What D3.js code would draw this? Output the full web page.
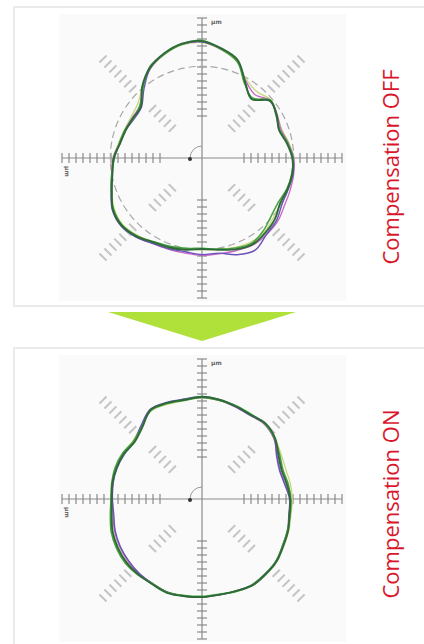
<!DOCTYPE html>
<html>
<head>
<meta charset="utf-8">
<script src="https://cdn.jsdelivr.net/npm/d3@7"></script>
<style>
  body { margin: 0; background: #fff; }
  svg { display: block; }
</style>
</head>
<body>
<div class="chart"></div>
<script>
// angles of the polar samples, degrees counter-clockwise from +x
const angles = [0,10,20,30,40,50,60,70,80,90,100,110,120,130,140,150,160,170,
                180,190,200,210,220,230,240,250,260,270,280,290,300,310,320,330,340,350];

// radial deviation traces, compensation OFF
const offOlive   = [13.1,12.6,12.1,12.4,12.9,12.3,12.8,14.6,15.7,16.5,16.4,15.7,14.7,13.2,12.0,11.7,11.8,12.1,12.7,13.1,13.7,14.5,14.8,14.4,13.9,13.5,13.2,13.1,13.3,13.6,13.9,13.8,13.3,13.0,13.1,13.1];
const offMagenta = [13.1,12.5,12.0,12.4,12.8,11.8,12.6,14.7,15.8,16.6,16.5,15.8,14.8,13.2,11.6,11.5,11.7,12.0,12.7,13.1,13.8,14.7,15.0,14.7,14.1,13.9,13.8,13.9,13.9,14.1,14.4,14.3,14.1,13.6,13.4,13.3];
const offPurple  = [13.0,12.4,11.8,12.3,12.7,11.1,12.3,14.8,15.8,16.6,16.5,15.8,14.8,12.9,11.3,11.2,11.6,11.9,12.6,13.0,13.8,14.8,15.1,14.7,14.1,13.8,13.6,13.8,13.8,14.7,15.2,14.3,13.9,13.2,13.1,13.2];
const offGreen   = [13.0,12.4,11.8,12.2,12.8,11.2,12.2,14.7,15.8,16.8,16.5,15.8,15.0,13.1,11.6,11.3,11.7,12.0,12.5,13.1,13.8,14.6,14.9,14.5,13.8,13.4,13.1,12.9,13.2,13.7,14.1,13.6,12.9,12.6,12.9,13.0];
const offDark    = [12.9,12.3,11.7,12.3,12.7,11.0,12.4,14.9,15.9,16.7,16.6,15.9,14.9,13.3,11.4,11.4,11.6,11.9,12.6,13.0,13.7,14.7,15.0,14.6,13.9,13.6,13.3,13.0,13.3,13.9,14.3,14.0,13.6,12.9,13.0,13.1];

// radial deviation traces, compensation ON
const onOlive    = [12.9,12.8,12.7,13.0,13.6,14.0,13.9,14.0,14.3,14.5,14.3,14.4,14.5,13.5,12.9,13.0,13.0,13.0,12.9,13.1,13.5,13.8,14.0,14.0,14.0,14.2,14.1,14.0,13.9,14.0,14.2,14.1,13.9,13.5,13.2,12.9];
const onMagenta  = [12.6,12.1,11.9,12.4,13.4,13.9,13.8,14.0,14.3,14.5,14.4,14.6,14.7,13.4,12.7,12.9,13.0,12.9,12.8,12.9,13.3,13.6,13.8,14.0,14.0,14.2,14.1,14.0,13.9,14.0,14.2,14.0,13.8,13.4,13.1,12.7];
const onPurple   = [12.5,12.0,11.8,12.3,13.5,14.0,13.8,14.0,14.4,14.6,14.5,14.7,14.8,13.6,12.7,12.8,12.9,12.9,12.8,12.8,13.2,13.5,13.7,13.9,14.0,14.2,14.1,14.0,13.9,14.0,14.2,14.0,13.8,13.3,13.0,12.6];
const onGreen    = [12.7,12.5,12.3,12.8,13.5,14.0,14.0,14.2,14.3,14.5,14.3,14.5,14.6,13.4,12.8,13.1,13.2,13.1,13.0,13.3,13.8,14.1,14.3,14.2,14.0,14.2,14.0,13.9,13.8,14.1,14.2,14.0,13.8,13.3,13.0,12.8];
const onDark     = [12.6,12.3,12.1,12.6,13.6,14.1,13.9,14.1,14.4,14.6,14.4,14.6,14.7,13.3,12.6,12.9,13.0,13.0,12.9,13.1,13.6,13.9,14.1,14.1,14.1,14.3,14.1,14.0,13.9,14.0,14.3,14.1,13.9,13.4,13.1,12.7];

// ticks on the axes and the 45 degree guides
const axisTicks = [6,7,8,9,10,11,12,13,14,15,16,17,18,19,20];
const diagTicks = [6,7,8,9,10,14,15,16,17,18,19,20];
const refRadius = 13.1;
const axisMax = 20;

const traceColors = ['#c9d67c', '#c86ac8', '#6a52b8', '#45a340', '#2e6a37'];
const traceWidths = [1.3, 1.3, 1.4, 1.5, 1.9];

const panels = [
  { top: 7,   height: 299, label: 'Compensation OFF', traces: [offOlive, offMagenta, offPurple, offGreen, offDark], ref: true },
  { top: 348, height: 310, label: 'Compensation ON',  traces: [onOlive, onMagenta, onPurple, onGreen, onDark], ref: false }
];

const width = 424, height = 644;
const cx = 202, cyOffset = 151;   // axis origin inside each panel

const svg = d3.select('.chart').append('svg')
    .attr('width', width)
    .attr('height', height);

const rScale = d3.scaleLinear().domain([0, axisMax]).range([0, 140]);

// math angle (ccw from +x) -> d3 radial angle (cw from 12 o'clock)
const toRad = a => (90 - a) * Math.PI / 180;

const radialLine = d3.lineRadial()
    .angle((d, i) => toRad(angles[i]))
    .radius(d => rScale(d))
    .curve(d3.curveCatmullRomClosed.alpha(0.5));

panels.forEach(p => {
  // panel frame
  svg.append('rect')
      .attr('x', 14).attr('y', p.top)
      .attr('width', 430).attr('height', p.height)
      .attr('fill', '#fff')
      .attr('stroke', '#ebebeb')
      .attr('stroke-width', 2);

  const g = svg.append('g')
      .attr('transform', `translate(${cx}, ${p.top + cyOffset})`);

  // faint plot background
  g.append('rect')
      .attr('x', -143).attr('y', -144)
      .attr('width', 287).attr('height', 287)
      .attr('fill', '#fafafa');

  // 45 degree tick guides
  [45, 135, 225, 315].forEach(a => {
    const t = a * Math.PI / 180;
    const ux = Math.cos(t), uy = -Math.sin(t);
    g.append('g').selectAll('line')
        .data(diagTicks)
        .join('line')
        .attr('x1', d => rScale(d) * ux - 5 * uy)
        .attr('y1', d => rScale(d) * uy + 5 * ux)
        .attr('x2', d => rScale(d) * ux + 5 * uy)
        .attr('y2', d => rScale(d) * uy - 5 * ux)
        .attr('stroke', '#c4c4c4')
        .attr('stroke-width', 2);
  });

  // axes
  g.append('line')
      .attr('x1', -rScale(axisMax)).attr('x2', rScale(axisMax))
      .attr('y1', 0).attr('y2', 0)
      .attr('stroke', '#8a8a8a').attr('stroke-width', 1.2);
  g.append('line')
      .attr('y1', -rScale(axisMax)).attr('y2', rScale(axisMax))
      .attr('x1', 0).attr('x2', 0)
      .attr('stroke', '#8a8a8a').attr('stroke-width', 1.2);

  const signed = axisTicks.flatMap(d => [d, -d]);
  g.append('g').selectAll('line')
      .data(signed)
      .join('line')
      .attr('x1', d => (d < 0 ? -rScale(-d) : rScale(d)))
      .attr('x2', d => (d < 0 ? -rScale(-d) : rScale(d)))
      .attr('y1', -5).attr('y2', 5)
      .attr('stroke', '#8a8a8a').attr('stroke-width', 1.2);
  g.append('g').selectAll('line')
      .data(signed)
      .join('line')
      .attr('y1', d => (d < 0 ? -rScale(-d) : rScale(d)))
      .attr('y2', d => (d < 0 ? -rScale(-d) : rScale(d)))
      .attr('x1', -5).attr('x2', 5)
      .attr('stroke', '#8a8a8a').attr('stroke-width', 1.2);

  // tiny axis captions
  g.append('text')
      .attr('x', 9).attr('y', -rScale(axisMax) + 6)
      .attr('font-family', 'DejaVu Sans').attr('font-size', 6)
      .attr('font-weight', 'bold').attr('fill', '#666')
      .text('µm');
  g.append('text')
      .attr('transform', `translate(${-rScale(axisMax) + 3}, 8) rotate(90)`)
      .attr('font-family', 'DejaVu Sans').attr('font-size', 6)
      .attr('font-weight', 'bold').attr('fill', '#666')
      .text('µm');

  // rotation arrow at the origin
  const arc = d3.path();
  arc.arc(0, 0, 12, -Math.PI / 2, Math.PI, true);
  g.append('path')
      .attr('d', arc.toString())
      .attr('fill', 'none')
      .attr('stroke', '#999')
      .attr('stroke-width', 1);
  g.append('circle')
      .attr('cx', -12).attr('cy', 1).attr('r', 2)
      .attr('fill', '#333');

  // reference circle
  if (p.ref) {
    g.append('circle')
        .attr('r', rScale(refRadius))
        .attr('fill', 'none')
        .attr('stroke', '#a8a8a8')
        .attr('stroke-width', 1.2)
        .attr('stroke-dasharray', '7,4');
  }

  // measured traces
  g.append('g').selectAll('path')
      .data(p.traces)
      .join('path')
      .attr('d', d => radialLine(d))
      .attr('fill', 'none')
      .attr('stroke', (d, i) => traceColors[i])
      .attr('stroke-width', (d, i) => traceWidths[i])
      .attr('stroke-linejoin', 'round');

  // side label
  svg.append('text')
      .attr('transform', `translate(399, ${p.top + (p.top < 100 ? 160 : 156)}) rotate(-90)`)
      .attr('text-anchor', 'middle')
      .attr('font-family', 'Open Sans')
      .attr('font-size', 22)
      .attr('fill', '#d8172c')
      .text(p.label);
});

// arrow between the panels
const arrowTop = 312, arrowTip = 341;
svg.append('path')
    .attr('d', `M108,${arrowTop} L296,${arrowTop} L${cx},${arrowTip} Z`)
    .attr('fill', '#b0e03a');
</script>
</body>
</html>
